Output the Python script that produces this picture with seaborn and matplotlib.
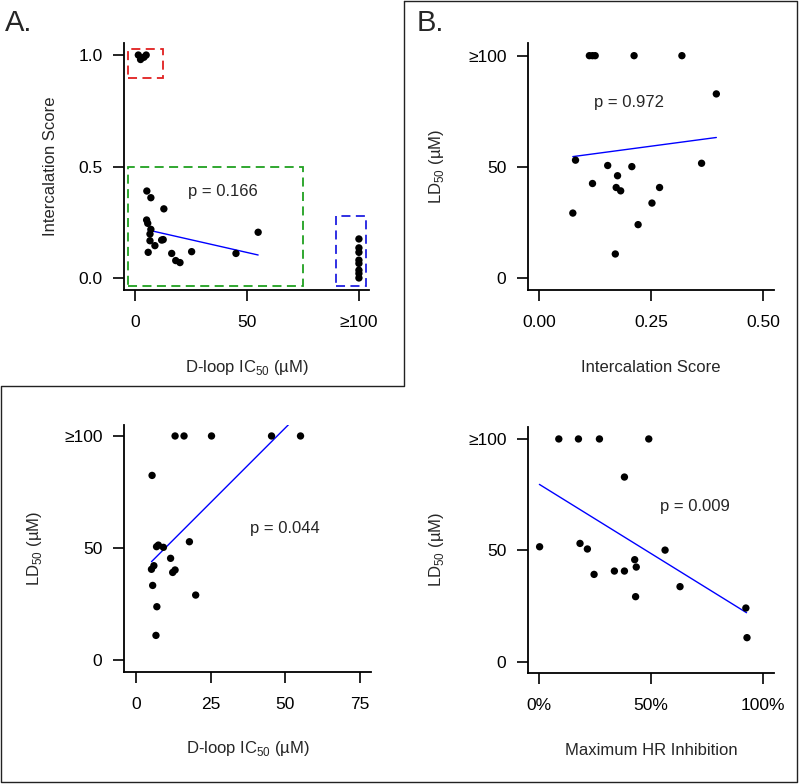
import numpy as np
import pandas as pd
import matplotlib
matplotlib.use("Agg")
import matplotlib.pyplot as plt
from matplotlib.patches import Rectangle
from matplotlib.lines import Line2D
import seaborn as sns

# data (>=100 values plotted at 100)
# A: intercalation score vs D-loop IC50
a_x = [1.5, 2.5, 4.0, 5.0,
       5.3, 7.1, 12.9, 5.2, 5.7, 7.1, 6.7, 6.7, 8.9, 5.9, 11.9, 12.6,
       16.4, 18.2, 20.1, 25.3, 45.1, 55.0,
       100, 100, 100, 100, 100, 100, 100, 100]
a_y = [1.0, 0.98, 0.99, 1.0,
       0.39, 0.36, 0.31, 0.26, 0.245, 0.218, 0.197, 0.167, 0.145, 0.115, 0.17, 0.172,
       0.11, 0.078, 0.069, 0.118, 0.11, 0.205,
       0.175, 0.135, 0.115, 0.08, 0.065, 0.035, 0.02, 0.0]
a_fit_x = [5.9, 55.0]
a_fit_y = [0.215, 0.103]
# dashed groups: (x0, x1, y0, y1)
box_red = (-3.0, 12.5, 0.897, 1.027)
box_green = (-3.0, 75.0, -0.036, 0.5)
box_blue = (89.7, 103.0, -0.036, 0.278)

# B: LD50 vs intercalation score
b_x = [0.112, 0.119, 0.125, 0.212, 0.319, 0.396, 0.081, 0.153, 0.207, 0.363,
       0.119, 0.175, 0.172, 0.182, 0.269, 0.252, 0.075, 0.221, 0.170]
b_y = [100, 100, 100, 100, 100, 82.8, 53.0, 50.6, 50.1, 51.6,
       42.5, 46.0, 40.7, 39.2, 40.7, 33.7, 29.2, 24.0, 10.8]
b_fit_x = [0.075, 0.396]
b_fit_y = [54.6, 63.2]

# C: LD50 vs D-loop IC50
c_x = [13.1, 16.1, 25.3, 45.4, 55.1, 5.4, 6.9, 7.5, 9.2, 17.9,
       11.6, 6.0, 5.2, 12.3, 13.1, 5.6, 20.0, 7.0, 6.7]
c_y = [100, 100, 100, 100, 100, 82.4, 50.6, 51.3, 50.3, 52.8,
       45.4, 42.1, 40.5, 39.1, 40.2, 33.3, 29.0, 23.8, 11.0]
c_fit_x = [5.2, 55.1]
c_fit_y = [43.9, 110.4]

# D: LD50 vs maximum HR inhibition (%)
d_x = [8.7, 17.5, 26.9, 49.0, 38.1, 0.1, 18.2, 21.5, 56.3, 24.5,
       33.6, 38.1, 42.7, 43.4, 43.1, 63.0, 92.5, 93.0]
d_y = [100, 100, 100, 100, 82.9, 51.6, 53.1, 50.6, 50.1, 39.2,
       40.7, 40.7, 45.8, 42.5, 29.2, 33.7, 24.1, 10.8]
d_fit_x = [0.0, 92.8]
d_fit_y = [79.6, 22.0]

p_values = ["p = 0.166", "p = 0.972", "p = 0.044", "p = 0.009"]

sns.set_style("ticks")
plt.rcParams['font.family'] = ['Liberation Sans', 'DejaVu Sans']
plt.rcParams['mathtext.fontset'] = 'custom'
plt.rcParams['mathtext.rm'] = 'Liberation Sans'
plt.rcParams['font.size'] = 12

W, H = 800, 784
fig = plt.figure(figsize=(8, 7.84), dpi=100)


def px_axes(x0, y0, x1, y1):
    # pixel box (top-left origin) -> axes
    return fig.add_axes([x0 / W, 1 - y1 / H, (x1 - x0) / W, (y1 - y0) / H])


def style(ax, xlab, ylab, ylab_off):
    for s in ["top", "right"]:
        ax.spines[s].set_visible(False)
    for s in ["left", "bottom"]:
        ax.spines[s].set_linewidth(1.3)
        ax.spines[s].set_color("black")
    ax.tick_params(direction="out", length=8, width=1.2,
                   labelsize=12.5, colors="black")
    ax.tick_params(axis="x", pad=10)
    ax.tick_params(axis="y", pad=7.5)
    ax.set_xlabel(xlab, fontsize=12)
    ax.set_ylabel(ylab, fontsize=12)
    bb = ax.get_position()
    hpx = bb.height * H
    wpx = bb.width * W
    ax.xaxis.set_label_coords(0.5, -77 / hpx)
    ax.xaxis.label.set_va("center")
    ax.yaxis.set_label_coords(-ylab_off / wpx, 0.5)
    ax.yaxis.label.set_va("center")


def panel(ax, x, y, fx, fy):
    df = pd.DataFrame({"x": x, "y": y})
    sns.scatterplot(data=df, x="x", y="y", ax=ax, color="black", s=28,
                    edgecolor="none", zorder=3)
    fit = pd.DataFrame({"x": fx, "y": fy})
    sns.lineplot(data=fit, x="x", y="y", ax=ax, color="#0000ff", lw=1.0,
                 zorder=2)


ld_label = r"LD$_{\mathregular{50}}$ (µM)"
ic_label = r"D-loop IC$_{\mathregular{50}}$ (µM)"

# A
axA = px_axes(124, 43, 369, 290)
panel(axA, a_x, a_y, a_fit_x, a_fit_y)
for (x0, x1, y0, y1), col in [(box_red, "#e02020"), (box_green, "#20a020"),
                              (box_blue, "#2020e0")]:
    axA.add_patch(Rectangle((x0, y0), x1 - x0, y1 - y0, fill=False,
                            edgecolor=col, lw=1.3, ls=(0, (5, 3)), zorder=1))
axA.set_xlim(-4.9, 104.5)
axA.set_ylim(-0.054, 1.054)
axA.set_xticks([0, 50, 100], ["0", "50", "≥100"])
axA.set_yticks([0, 0.5, 1.0], ["0.0", "0.5", "1.0"])
axA.text(39.4, 0.39, p_values[0], ha="center", va="center", fontsize=12)
style(axA, ic_label, "Intercalation Score", 73)

# B
axB = px_axes(528, 43, 774, 290)
panel(axB, b_x, b_y, b_fit_x, b_fit_y)
axB.set_xlim(-0.0253, 0.525)
axB.set_ylim(-5.4, 105.7)
axB.set_xticks([0, 0.25, 0.5], ["0.00", "0.25", "0.50"])
axB.set_yticks([0, 50, 100], ["0", "50", "≥100"])
axB.text(0.2, 79, p_values[1], ha="center", va="center", fontsize=12)
style(axB, "Intercalation Score", ld_label, 91)

# C
axC = px_axes(124, 425, 371, 671.7)
panel(axC, c_x, c_y, c_fit_x, c_fit_y)
axC.set_xlim(-4.0, 78.7)
axC.set_ylim(-5.2, 104.9)
axC.set_xticks([0, 25, 50, 75], ["0", "25", "50", "75"])
axC.set_yticks([0, 50, 100], ["0", "50", "≥100"])
axC.text(49.9, 58.8, p_values[2], ha="center", va="center", fontsize=12)
style(axC, ic_label, ld_label, 89)

# D
axD = px_axes(528, 426.7, 774, 673.3)
panel(axD, d_x, d_y, d_fit_x, d_fit_y)
axD.set_xlim(-5.1, 105.1)
axD.set_ylim(-5.2, 105.5)
axD.set_xticks([0, 50, 100], ["0%", "50%", "100%"])
axD.set_yticks([0, 50, 100], ["0", "50", "≥100"])
axD.text(69.7, 69.6, p_values[3], ha="center", va="center", fontsize=12)
style(axD, "Maximum HR Inhibition", ld_label, 91)

# panel frames
border_x = [404, 797, 797, 1, 1, 404, 404]
border_y = [1, 1, 782, 782, 386, 386, 1]
fig.add_artist(Line2D([v / W for v in border_x], [1 - v / H for v in border_y],
                      transform=fig.transFigure, color="#222222", lw=1.0))

fig.text(5 / W, 1 - 23 / H, "A.", fontsize=21, ha="left", va="center")
fig.text(417 / W, 1 - 23 / H, "B.", fontsize=21, ha="left", va="center")

fig.savefig("out.png", dpi=100)
